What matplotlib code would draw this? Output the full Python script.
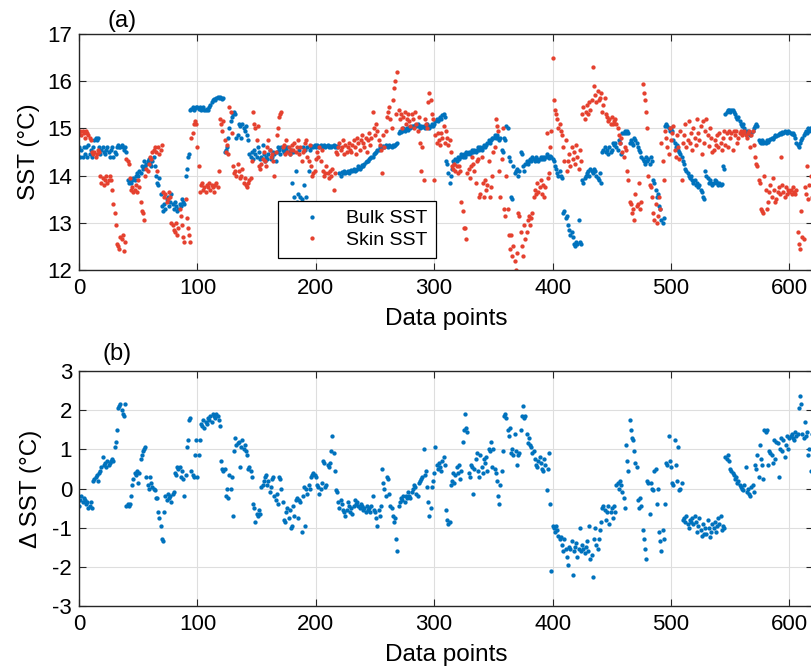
import numpy as np
import matplotlib
matplotlib.use("Agg")
import matplotlib.pyplot as plt

plt.rcParams['font.family'] = ['Liberation Sans', 'DejaVu Sans']
plt.rcParams['axes.unicode_minus'] = False

# ---- data (one value per data point, index 0..619) ----
bulk_sst = [
    14.6, 14.4, 14.55, 14.4, 14.6, 14.45, 14.6, 14.4, 14.65, 14.45,
    14.55, 14.4, 14.6, 14.75, 14.8, 14.75, 14.8, 14.6, 14.45, 14.55,
    14.6, 14.5, 14.45, 14.55, 14.6, 14.5, 14.4, 14.55, 14.6, 14.4,
    14.5, 14.45, 14.6, 14.65, 14.6, 14.6, 14.65, 14.6, 14.55, 14.6,
    14.5, 13.9, 13.85, 13.9, 13.85, 13.9, 13.95, 13.9, 14.0, 14.05,
    14.0, 14.1, 14.05, 14.2, 14.15, 14.3, 14.2, 14.25, 14.3, 14.35,
    14.25, 14.2, 14.3, 14.4, 14.2, 14.0, 13.85, 13.8, 13.95, 13.6,
    13.35, 13.25, 13.4, 13.3, 13.5, 13.55, 13.35, 13.45, 13.6, 13.4,
    13.3, 13.45, 13.35, 13.25, 13.3, 13.4, 13.35, 13.5, 13.45, 13.4,
    14.0, 14.15, 14.4, 14.45, 15.4, 15.42, 15.45, 15.4, 15.43, 15.45,
    15.45, 15.42, 15.45, 15.4, 15.43, 15.45, 15.4, 15.38, 15.42, 15.4,
    15.45, 15.5, 15.55, 15.6, 15.62, 15.6, 15.65, 15.67, 15.65, 15.67,
    15.65, 15.63, 15.65, 14.5, 14.55, 14.6, 14.8, 15.0, 15.15, 15.25,
    15.3, 15.35, 15.3, 14.8, 14.85, 15.1, 15.05, 14.8, 15.1, 15.0,
    14.95, 15.05, 14.85, 14.75, 14.45, 14.4, 14.5, 14.35, 14.55, 14.45,
    14.4, 14.6, 14.5, 14.35, 14.4, 14.65, 14.45, 14.3, 14.4, 14.35,
    14.45, 14.55, 14.35, 14.4, 14.5, 14.45, 14.3, 14.5, 14.6, 14.55,
    14.45, 14.6, 14.55, 14.5, 14.6, 14.55, 14.6, 14.5, 14.45, 14.55,
    13.85, 14.5, 13.55, 14.1, 13.45, 13.6, 14.55, 13.55, 13.5, 14.6,
    13.8, 14.55, 13.55, 14.6, 14.1, 14.55, 14.6, 14.62, 14.6, 14.65,
    14.6, 14.65, 14.62, 14.6, 14.65, 14.6, 14.63, 14.65, 14.6, 14.62,
    14.65, 14.6, 14.63, 14.6, 14.62, 14.65, 14.6, 14.63, 14.6, 14.62,
    14.05, 14.0, 14.08, 14.05, 14.1, 14.05, 14.08, 14.1, 14.05, 14.1,
    14.12, 14.1, 14.15, 14.1, 14.12, 14.15, 14.2, 14.15, 14.18, 14.22,
    14.2, 14.25, 14.28, 14.3, 14.3, 14.35, 14.38, 14.4, 14.4, 14.45,
    14.48, 14.5, 14.55, 14.55, 14.6, 14.58, 14.6, 14.62, 14.6, 14.65,
    14.62, 14.6, 14.65, 14.63, 14.6, 14.65, 14.62, 14.65, 14.68, 14.7,
    14.9, 14.95, 14.92, 14.95, 15.0, 14.95, 14.98, 15.0, 14.97, 15.02,
    15.0, 15.05, 15.02, 15.05, 15.08, 15.05, 15.1, 15.05, 15.0, 15.05,
    15.02, 15.05, 15.0, 15.05, 15.1, 15.05, 15.0, 15.05, 15.1, 15.05,
    15.1, 15.15, 15.2, 15.15, 15.2, 15.25, 15.2, 15.28, 15.3, 15.25,
    14.3, 14.25, 14.05, 13.85, 14.0, 14.15, 14.3, 14.25, 14.35, 14.3,
    14.4, 14.35, 14.4, 14.45, 14.4, 14.45, 14.4, 14.5, 14.45, 14.5,
    14.45, 14.5, 14.55, 14.5, 14.55, 14.5, 14.55, 14.6, 14.55, 14.6,
    14.55, 14.6, 14.65, 14.6, 14.65, 14.7, 14.75, 14.7, 14.75, 14.8,
    14.8, 14.85, 14.8, 14.85, 14.8, 14.75, 14.8, 14.55, 14.5, 14.8,
    14.75, 15.05, 15.0, 14.4, 14.3, 13.55, 13.5, 14.2, 14.05, 14.1,
    14.15, 14.0, 14.1, 14.5, 14.45, 14.2, 14.1, 14.25, 14.3, 14.25,
    14.3, 14.35, 14.3, 14.4, 14.35, 14.3, 14.4, 14.35, 14.3, 14.35,
    14.4, 14.35, 14.4, 14.35, 14.4, 14.45, 14.4, 14.38, 14.42, 14.4,
    14.35, 14.3, 14.2, 14.15, 14.05, 14.0, 14.1, 14.0, 13.95, 13.2,
    13.25, 13.1, 13.15, 12.95, 12.85, 12.75, 12.8, 12.7, 12.55, 12.5,
    12.6, 12.55, 13.05, 12.6, 12.55, 13.9, 13.85, 13.95, 14.0, 14.05,
    14.1, 14.0, 14.15, 14.1, 14.05, 14.15, 14.1, 14.0, 13.95, 13.9,
    14.05, 13.85, 14.5, 14.55, 14.6, 14.5, 14.55, 14.45, 14.6, 14.5,
    14.55, 14.7, 14.65, 14.7, 14.6, 14.55, 14.75, 14.7, 14.45, 14.9,
    14.9, 14.95, 14.9, 14.95, 14.9, 14.7, 14.75, 14.7, 14.65, 14.8,
    14.75, 14.7, 14.6, 14.55, 14.5, 14.4, 14.35, 14.3, 14.25, 14.4,
    14.3, 14.35, 14.25, 14.4, 14.3, 13.9, 13.85, 13.7, 13.55, 13.6,
    13.35, 13.3, 13.05, 13.0, 13.1, 15.05, 15.1, 15.05, 15.0, 14.95,
    15.0, 14.95, 14.75, 14.7, 14.6, 14.65, 14.55, 14.5, 14.45, 14.4,
    14.3, 14.25, 14.15, 14.1, 14.05, 14.0, 13.95, 14.0, 13.9, 13.85,
    13.9, 13.8, 13.85, 13.75, 13.8, 13.7, 13.65, 13.55, 13.5, 14.1,
    14.0, 13.95, 13.85, 13.9, 13.85, 13.8, 13.85, 13.9, 13.88, 13.85,
    13.8, 13.85, 13.8, 13.82, 14.2, 14.15, 15.3, 15.35, 15.38, 15.4,
    15.35, 15.4, 15.38, 15.35, 15.3, 15.25, 15.2, 15.25, 15.15, 15.1,
    15.05, 15.1, 15.0, 14.95, 14.9, 14.95, 14.88, 14.85, 14.9, 14.95,
    15.0, 15.05, 15.1, 15.05, 14.75, 14.72, 14.7, 14.75, 14.7, 14.72,
    14.7, 14.75, 14.72, 14.75, 14.78, 14.8, 14.78, 14.82, 14.85, 14.83,
    14.85, 14.88, 14.9, 14.88, 14.92, 14.9, 14.95, 14.92, 14.9, 14.95,
    14.92, 14.9, 14.88, 14.9, 14.85, 14.8, 14.7, 14.65, 14.6, 14.7,
    14.75, 14.8, 14.85, 14.9, 14.95, 14.9, 15.0, 14.95, 15.0, 15.02,
]

skin_sst = [
    14.9, 14.95, 14.85, 14.95, 14.9, 14.8, 14.95, 14.9, 14.85, 14.8,
    14.75, 14.5, 14.45, 14.5, 14.4, 14.45, 14.55, 14.5, 14.0, 13.85,
    13.95, 13.8, 13.9, 14.0, 13.85, 13.9, 14.0, 13.9, 13.7, 13.4,
    13.2, 12.95, 12.55, 12.5, 12.45, 12.7, 12.65, 12.75, 12.4, 12.6,
    14.35, 14.3, 14.25, 13.95, 13.7, 13.75, 13.65, 13.7, 13.8, 13.65,
    13.9, 13.75, 13.45, 13.25, 13.2, 13.05, 14.0, 14.15, 14.1, 14.25,
    14.4, 14.35, 14.5, 14.55, 14.6, 14.5, 14.1, 14.6, 14.45, 14.55,
    14.65, 13.65, 13.55, 13.6, 13.45, 13.5, 13.65, 13.55, 13.0, 12.95,
    12.85, 12.8, 13.0, 12.75, 12.9, 13.3, 13.15, 12.95, 12.7, 12.6,
    13.5, 13.1, 12.9, 12.75, 12.6, 14.8, 14.9, 15.1, 15.15, 15.1,
    14.6, 14.2, 13.65, 13.8, 13.85, 13.7, 13.75, 13.65, 13.8, 13.75,
    13.85, 13.7, 13.8, 13.75, 13.65, 13.8, 13.85, 13.75, 14.1, 15.2,
    15.1, 14.95, 15.15, 14.75, 14.5, 14.65, 14.45, 15.45, 15.35, 14.9,
    14.2, 14.05, 14.1, 14.0, 14.25, 14.1, 13.95, 14.0, 14.15, 13.85,
    13.95, 13.8, 13.75, 13.85, 13.9, 13.95, 14.3, 15.35, 15.1, 15.0,
    14.75, 15.05, 14.2, 14.15, 14.25, 14.35, 14.5, 14.3, 14.2, 14.6,
    14.75, 14.55, 14.4, 14.45, 14.3, 14.0, 14.5, 14.85, 15.0, 15.25,
    15.3, 15.35, 14.6, 14.65, 14.45, 14.75, 14.5, 14.6, 14.45, 14.55,
    14.65, 14.55, 14.7, 14.5, 14.6, 14.75, 14.45, 14.6, 14.3, 14.5,
    14.55, 14.7, 14.75, 14.4, 14.3, 14.65, 14.2, 14.0, 14.05, 14.1,
    14.35, 14.5, 14.4, 14.6, 14.3, 14.55, 14.1, 14.0, 14.05, 14.2,
    14.05, 13.95, 14.1, 14.0, 14.15, 13.7, 14.05, 14.5, 14.45, 14.6,
    14.7, 14.55, 14.6, 14.75, 14.45, 14.65, 14.5, 14.6, 14.7, 14.55,
    14.5, 14.65, 14.75, 14.6, 14.45, 14.8, 14.7, 14.55, 14.75, 14.85,
    14.7, 14.6, 14.8, 14.5, 14.75, 14.9, 14.65, 14.8, 15.35, 15.0,
    14.85, 15.1, 14.95, 14.75, 14.65, 14.55, 14.05, 14.85, 14.6, 14.95,
    15.25, 15.35, 15.45, 15.2, 15.0, 15.6, 15.85, 16.0, 15.3, 16.2,
    15.4, 15.2, 15.3, 15.0, 15.25, 15.35, 15.1, 15.2, 15.3, 15.15,
    15.05, 15.3, 15.2, 15.0, 15.35, 15.1, 14.95, 15.25, 14.7, 14.1,
    14.6, 13.9, 15.2, 15.1, 15.0, 15.55, 15.75, 15.6, 15.3, 15.2,
    13.9, 14.85, 14.7, 14.9, 14.75, 14.65, 14.9, 14.8, 15.05, 14.7,
    14.95, 14.8, 14.65, 14.75, 14.5, 14.2, 14.15, 14.25, 14.1, 14.2,
    14.05, 14.2, 14.1, 13.45, 13.25, 12.9, 12.9, 12.65, 14.05, 14.15,
    13.95, 14.2, 14.4, 14.25, 14.1, 13.85, 14.3, 14.35, 13.55, 13.6,
    14.4, 13.85, 13.55, 13.9, 13.7, 13.8, 14.3, 13.55, 13.75, 14.0,
    14.5, 14.6, 15.2, 15.05, 14.95, 14.1, 13.55, 14.35, 15.0, 13.3,
    13.15, 14.0, 13.3, 12.75, 12.45, 12.75, 12.3, 12.5, 12.2, 12.0,
    12.35, 13.2, 13.15, 12.8, 12.5, 12.3, 12.95, 12.65, 12.8, 13.05,
    13.15, 12.95, 13.1, 13.2, 13.55, 13.7, 13.6, 13.85, 13.65, 13.75,
    13.9, 13.6, 13.8, 13.55, 13.75, 14.9, 13.95, 14.05, 14.6, 14.95,
    16.5, 15.6, 15.4, 15.3, 15.2, 15.0, 15.1, 14.95, 14.85, 14.6,
    14.3, 14.75, 14.1, 14.3, 14.45, 14.2, 14.6, 14.35, 14.5, 14.25,
    14.65, 14.4, 14.15, 14.55, 14.3, 15.3, 15.45, 15.2, 15.35, 15.5,
    15.3, 15.55, 15.4, 15.6, 16.3, 15.9, 15.7, 15.55, 15.8, 15.6,
    15.65, 15.75, 15.35, 15.5, 15.65, 15.3, 15.25, 15.15, 15.2, 15.1,
    15.25, 15.1, 15.15, 15.2, 15.1, 15.0, 14.85, 14.7, 14.8, 14.5,
    14.4, 14.6, 14.55, 14.1, 13.9, 13.45, 13.4, 13.2, 13.3, 13.05,
    13.6, 13.35, 13.4, 13.85, 13.3, 13.45, 15.95, 15.75, 15.6, 15.35,
    15.0, 14.0, 13.8, 13.75, 13.55, 13.2, 13.05, 13.4, 13.0, 13.15,
    13.55, 13.3, 14.7, 14.3, 13.9, 14.95, 14.8, 14.6, 14.45, 15.0,
    14.75, 14.9, 15.05, 14.55, 14.4, 14.85, 14.6, 14.35, 14.95, 13.9,
    14.7, 14.85, 15.1, 14.6, 14.75, 15.15, 14.7, 14.9, 14.55, 15.0,
    14.8, 14.65, 15.2, 14.9, 14.75, 15.05, 14.45, 15.15, 14.7, 14.95,
    15.2, 14.85, 14.62, 15.0, 14.8, 14.5, 14.55, 14.75, 14.65, 14.85,
    14.6, 14.9, 14.7, 14.55, 14.8, 14.95, 14.65, 14.9, 14.6, 14.95,
    14.8, 14.9, 14.55, 14.95, 14.85, 14.95, 14.7, 14.8, 14.9, 14.95,
    14.85, 14.9, 14.95, 14.85, 14.8, 14.9, 14.95, 14.6, 14.85, 14.95,
    14.65, 14.4, 14.25, 14.2, 13.9, 13.85, 13.3, 13.25, 13.2, 14.0,
    13.7, 13.3, 13.45, 13.65, 13.8, 13.55, 13.95, 13.7, 13.45, 13.5,
    13.65, 13.75, 13.6, 14.4, 13.8, 13.65, 13.55, 13.75, 13.6, 13.7,
    13.65, 13.7, 13.6, 13.75, 13.65, 13.6, 13.7, 12.8, 12.55, 12.45,
    13.25, 12.7, 12.65, 13.75, 13.6, 14.2, 13.5, 13.8, 14.0, 13.55,
]

delta_sst = [
    -0.45, -0.3, -0.2, -0.35, -0.25, -0.3, -0.4, -0.35, -0.5, -0.45,
    -0.35, -0.5, 0.2, 0.25, 0.3, 0.35, 0.2, 0.4, 0.45, 0.55,
    0.8, 0.6, 0.65, 0.55, 0.7, 0.6, 0.65, 0.7, 0.75, 0.7,
    1.05, 1.2, 1.5, 2.05, 2.1, 2.15, 2.0, 1.9, 1.85, 2.15,
    -0.45, -0.4, -0.45, -0.4, -0.2, 0.1, 0.25, 0.4, 0.35, 0.45,
    0.15, 0.4, 0.75, 0.85, 0.95, 1.0, 1.05, 0.3, 0.1, 0.0,
    0.3, 0.15, 0.05, 0.0, -0.05, -0.25, -0.25, -0.6, -0.75, -0.95,
    -1.3, -1.35, -0.6, -0.2, -0.3, -0.15, -0.25, -0.2, -0.35, -0.15,
    -0.1, 0.4, 0.35, 0.55, 0.5, 0.55, 0.3, 0.45, 0.25, -0.2,
    0.35, 1.05, 1.25, 1.75, 1.8, 0.45, 0.35, 0.3, 0.85, 1.25,
    0.3, 0.85, 1.25, 1.65, 1.6, 1.75, 1.55, 1.7, 1.65, 1.8,
    1.75, 1.85, 1.7, 1.9, 1.85, 1.8, 1.9, 1.85, 1.75, 1.6,
    0.7, 0.5, 0.45, 0.5, -0.2, 0.0, -0.25, 0.35, 0.0, 0.3,
    -0.7, 0.95, 1.3, 1.1, 1.15, 1.2, 0.55, 1.05, 1.25, 1.0,
    1.1, 0.95, 0.85, 0.5, 0.55, 0.45, 0.3, -0.4, -0.5, -0.85,
    -0.65, -0.7, -0.55, -0.65, 0.05, 0.1, 0.2, 0.3, 0.35, 0.1,
    0.2, -0.1, 0.05, 0.25, 0.3, -0.2, -0.3, -0.15, -0.4, 0.3,
    0.25, 0.0, -0.35, -0.8, -0.85, -0.6, -0.5, -0.75, -0.55, -1.0,
    -0.95, -0.45, -0.7, -0.3, -0.25, -0.75, -0.3, -0.35, -1.1, -0.2,
    0.05, -0.95, 0.0, -0.15, 0.1, 0.0, 0.3, 0.35, 0.4, 0.35,
    0.3, 0.1, 0.05, -0.15, 0.0, 0.15, 0.7, 0.65, 0.05, 0.1,
    0.6, 0.55, 0.65, 0.95, 1.35, 0.9, 0.45, -0.05, -0.1, -0.35,
    -0.5, -0.3, -0.4, -0.55, -0.6, -0.7, -0.55, -0.35, -0.45, -0.6,
    -0.5, -0.65, -0.45, -0.3, -0.4, -0.35, -0.45, -0.5, -0.4, -0.45,
    -0.55, -0.5, -0.6, -0.45, -0.55, -0.5, -0.6, -0.45, -0.2, -0.55,
    -0.6, -0.75, -0.95, -0.55, -0.7, -0.45, 0.5, 0.15, 0.0, -0.2,
    0.3, 0.25, -0.15, -0.45, -0.5, -0.7, -0.85, -0.75, -1.3, -1.6,
    -0.45, -0.35, -0.25, -0.3, -0.2, -0.35, -0.2, -0.25, -0.1, -0.2,
    -0.25, -0.1, 0.0, 0.1, 0.05, -0.15, -0.2, 0.15, 0.2, 0.25,
    0.3, 1.0, 0.35, 0.45, 0.05, -0.35, -0.7, -0.5, 0.05, 0.2,
    0.4, 1.05, 0.6, 0.5, 0.65, 0.55, 0.45, 0.7, 0.8, 0.6,
    -0.55, -0.8, -0.9, -0.85, 0.1, 0.2, 0.4, 0.15, 0.35, 0.55,
    0.4, 0.6, 0.25, 0.45, 1.2, 1.5, 1.9, 1.55, 1.45, 0.4,
    0.3, 0.6, 0.55, -0.15, 0.5, 0.75, 0.9, 0.45, 0.3, 0.85,
    0.55, 0.4, 0.75, 0.65, 0.8, 0.45, 1.0, 0.95, 1.2, 0.55,
    1.0, 0.5, 0.4, 0.2, -0.2, -0.4, 0.1, 0.45, 0.95, 1.85,
    1.9, 1.8, 1.5, 1.35, 1.55, 0.9, 1.0, 0.85, 1.4, 0.95,
    0.6, 0.85, 0.9, 1.5, 1.85, 2.1, 1.8, 1.85, 1.4, 1.15,
    1.3, 1.1, 1.05, 0.9, 0.95, 0.75, 0.6, 0.55, 0.7, 0.8,
    0.65, 0.5, 0.45, 0.75, 0.6, -0.05, 0.5, 0.9, -0.4, -2.1,
    -0.95, -1.0, -1.1, -0.95, -1.05, -1.2, -1.3, -1.25, -1.45, -1.6,
    -1.3, -1.55, -1.75, -1.95, -1.5, -1.55, -1.35, -2.2, -1.6, -1.5,
    -1.4, -1.75, -1.55, -1.0, -1.6, -1.45, -1.55, -1.65, -1.5, -1.35,
    -1.6, -0.95, -1.8, -1.7, -2.25, -1.3, -1.0, -1.45, -1.55, -1.3,
    -1.05, -0.85, -0.5, -0.45, -0.55, -0.8, -0.6, -0.45, -0.9, -0.6,
    -0.5, -0.75, -0.45, -0.6, 0.1, 0.15, 0.0, 0.2, 0.1, -0.1,
    -0.25, -0.5, 1.1, 0.7, 0.45, 1.75, 1.5, 1.3, 1.25, 0.95,
    0.65, 0.55, -0.3, -0.5, -0.25, -0.45, -1.05, -1.3, -1.55, -1.8,
    0.2, 0.15, -0.65, 0.15, 0.0, -0.05, 0.45, 0.5, -0.4, 0.0,
    -1.1, -1.35, -1.6, -1.05, -1.3, -0.4, 0.65, 0.6, 1.35, 0.7,
    0.55, 0.15, 0.1, 1.25, 0.6, 0.2, 1.05, -0.05, 0.0, 0.15,
    -0.8, -0.75, -0.85, -0.7, -0.9, -1.0, -0.8, -0.85, -0.75, -0.9,
    -0.7, -0.85, -1.1, -0.95, -0.75, -1.05, -1.2, -0.9, -1.15, -1.0,
    -1.15, -0.8, -1.0, -1.25, -1.1, -0.9, -1.0, -0.85, -1.1, -0.95,
    -0.75, -0.9, -0.7, -1.05, -0.95, -1.0, 0.8, 0.75, 0.85, 0.7,
    0.5, 0.45, 0.4, 0.35, 0.25, 0.3, 0.15, 0.2, 0.1, 0.05,
    0.0, -0.05, 0.1, 0.55, -0.1, 0.0, -0.15, -0.2, 0.05, 0.1,
    -0.1, 0.6, 0.5, 0.85, 0.3, 1.1, 0.75, 0.6, 0.25, 1.5,
    1.45, 1.5, 0.6, 0.95, 0.9, 0.85, 0.65, 1.25, 0.75, 1.2,
    1.15, 0.3, 1.0, 1.3, 0.95, 1.25, 0.8, 1.1, 1.35, 1.0,
    1.3, 1.35, 1.4, 1.3, 1.25, 1.45, 1.35, 1.4, 2.05, 2.35,
    2.15, 1.4, 1.3, 1.7, 1.35, 1.45, 0.85, 1.0, 0.45, 1.4,
]

x_ticks = [0, 100, 200, 300, 400, 500, 600]
sst_ticks = [12, 13, 14, 15, 16, 17]
dsst_ticks = [-3, -2, -1, 0, 1, 2, 3]

BLUE = '#0072BD'
RED = '#E5412F'
DARK = '#262626'


def style_axes(ax):
    ax.set_xlim(0, 620)
    ax.set_xticks(x_ticks)
    ax.grid(True, color='#dedede', lw=0.8)
    ax.set_axisbelow(True)
    ax.tick_params(direction='in', length=5, width=0.8, colors=DARK,
                   labelcolor='black', labelsize=16, top=True, right=True)
    ax.tick_params(axis='x', pad=6)
    ax.tick_params(axis='y', pad=5)
    for s in ax.spines.values():
        s.set_color(DARK)
        s.set_linewidth(1.0)
    ax.set_xlabel('Data points', fontsize=17.5, labelpad=6)


fig = plt.figure(figsize=(8.11, 6.72), dpi=100)
ax1 = fig.add_axes([0.0974, 0.5982, 0.9051, 0.3512])
ax2 = fig.add_axes([0.0974, 0.0982, 0.9051, 0.3497])

# (a) bulk and skin SST
ax1.plot(np.arange(len(bulk_sst)), bulk_sst, 'o', color=BLUE, ms=3.1, mew=0,
         label='Bulk SST')
ax1.plot(np.arange(len(skin_sst)), skin_sst, 'o', color=RED, ms=3.1, mew=0,
         label='Skin SST')
ax1.set_ylim(12, 17)
ax1.set_yticks(sst_ticks)
style_axes(ax1)
ax1.set_ylabel('SST (°C)', fontsize=17.5)
ax1.yaxis.set_label_coords(-0.053, 0.5)
leg = ax1.legend(loc='lower left', bbox_to_anchor=(0.2705, 0.051),
                 borderaxespad=0, fontsize=14, frameon=True, fancybox=False,
                 edgecolor='black', framealpha=1, handlelength=2.6,
                 handletextpad=0.45, borderpad=0.45, labelspacing=0.22)
leg.get_frame().set_linewidth(0.9)

# (b) bulk minus skin
ax2.plot(np.arange(len(delta_sst)), delta_sst, 'o', color=BLUE, ms=3.1, mew=0)
ax2.set_ylim(-3, 3)
ax2.set_yticks(dsst_ticks)
style_axes(ax2)
ax2.set_ylabel('Δ SST (°C)', fontsize=17.5)
ax2.yaxis.set_label_coords(-0.051, 0.5)

fig.text(0.132, 0.969, '(a)', fontsize=17, va='center', ha='left')
fig.text(0.126, 0.473, '(b)', fontsize=17, va='center', ha='left')

fig.savefig('out.png', dpi=100)
